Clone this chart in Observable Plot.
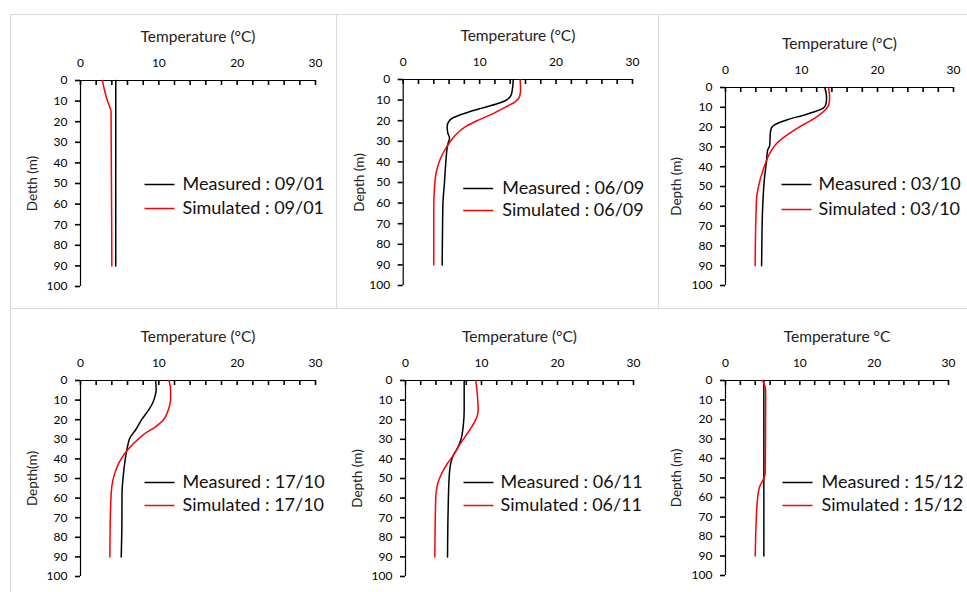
<!DOCTYPE html>
<html><head><meta charset="utf-8">
<script src="https://cdn.jsdelivr.net/npm/d3@7"></script>
<script src="https://cdn.jsdelivr.net/npm/@observablehq/plot@0.6"></script>
<style>
body{margin:0;background:#fff;}
#chart{position:relative;width:967px;height:592px;overflow:hidden;font-family:Lato,sans-serif;}
.panel{position:absolute;}
.panel svg{background:transparent;}
.border{position:absolute;background:#d9d9d9;}
</style></head><body><div id="chart"></div>
<script>
// ---------- data ----------
const dates = ["09/01", "06/09", "03/10", "17/10", "06/11", "15/12"];
const xTitles = ["Temperature (°C)", "Temperature (°C)", "Temperature (°C)", "Temperature (°C)", "Temperature (°C)", "Temperature °C"];
const yTitles = ["Detth (m)", "Depth (m)", "Depth (m)", "Depth(m)", "Depth (m)", "Depth (m)"];
const xTickLabels = [0, 10, 20, 30];
const xTickMarks = [0, 2, 4, 6, 8, 10, 12, 14, 16, 18, 20, 22, 24, 26, 28, 30];
const yTickLabels = [0, 10, 20, 30, 40, 50, 60, 70, 80, 90, 100];

// measured profiles (depth m, temperature °C)
const measDepth1 = [0, 30, 60, 90];
const measTemp1  = [4.5, 4.5, 4.5, 4.5];
const measDepth2 = [0, 6.6, 8.6, 10.2, 11.8, 13.9, 16, 17.6, 18.8, 20.4, 22.8, 26, 28.5, 30.9, 33.3, 39, 50, 60, 71, 90];
const measTemp2  = [14.4, 14.2, 13.95, 13.4, 12.3, 10.3, 8.4, 7.15, 6.4, 5.97, 5.75, 5.84, 6.06, 5.88, 5.75, 5.6, 5.4, 5.2, 5.15, 5.1];
const measDepth3 = [0, 5.2, 8.6, 10.6, 13.6, 16.2, 18.7, 20.4, 22.9, 27, 29.6, 31.5, 37, 47, 62.5, 74, 90];
const measTemp3  = [13.07, 13.3, 13.2, 12.8, 10.6, 8.2, 6.5, 6.05, 5.9, 5.85, 5.8, 5.55, 5.4, 5.1, 4.87, 4.8, 4.75];
const measDepth4 = [0, 4.8, 8.2, 11.6, 15, 20, 25, 29.4, 33.7, 40.5, 49, 57.5, 74.5, 90];
const measTemp4  = [9.6, 9.66, 9.5, 9.2, 8.7, 7.8, 7.06, 6.3, 6.0, 5.7, 5.45, 5.3, 5.28, 5.2];
const measDepth5 = [0, 15, 23.5, 30.3, 34.5, 38.3, 42.2, 49, 66, 90];
const measTemp5  = [7.72, 7.72, 7.59, 7.28, 6.84, 6.27, 5.96, 5.75, 5.61, 5.53];
const measDepth6 = [0, 30, 60, 90];
const measTemp6  = [5.16, 5.16, 5.16, 5.16];

// simulated profiles
const simDepth1 = [0, 4.5, 10, 13.5, 15, 30, 50, 70, 90];
const simTemp1  = [2.8, 3.05, 3.45, 3.8, 3.9, 3.92, 3.95, 3.98, 4.0];
const simDepth2 = [0, 5, 8, 10.7, 13, 16.3, 19.6, 22.8, 26.9, 31, 35.8, 40.6, 45.5, 52, 63, 90];
const simTemp2  = [15.3, 15.35, 15.25, 14.7, 13.6, 11.9, 9.9, 8.2, 6.85, 6.0, 5.2, 4.65, 4.3, 4.1, 4.0, 4.0];
const simDepth3 = [0, 5, 8.6, 11, 15.3, 19.5, 23.7, 28.8, 33.8, 38.9, 44, 49, 55.7, 66, 90];
const simTemp3  = [13.55, 13.7, 13.6, 13.2, 11.8, 9.9, 8.2, 6.6, 5.75, 5.2, 4.75, 4.4, 4.1, 4.0, 3.9];
const simDepth4 = [0, 4.8, 10, 15, 20, 23.5, 27.7, 32, 37, 42, 47, 54, 66, 90];
const simTemp4  = [11.3, 11.5, 11.5, 11.2, 10.6, 9.6, 8.0, 6.8, 5.7, 4.9, 4.4, 4.0, 3.83, 3.75];
const simDepth5 = [0, 8.2, 15, 19.2, 23.5, 28.6, 33.7, 38.3, 42.2, 47.6, 52.4, 59.2, 74.5, 90];
const simTemp5  = [9.25, 9.47, 9.56, 9.34, 8.73, 7.85, 6.97, 6.27, 5.53, 4.74, 4.25, 3.99, 3.9, 3.86];
const simDepth6 = [0, 4.8, 15, 30, 47.5, 49.2, 54.4, 61.2, 74.9, 90];
const simTemp6  = [4.98, 5.4, 5.4, 5.38, 5.35, 5.25, 4.6, 4.3, 4.1, 4.0];

const measDepths = [measDepth1, measDepth2, measDepth3, measDepth4, measDepth5, measDepth6];
const measTemps  = [measTemp1, measTemp2, measTemp3, measTemp4, measTemp5, measTemp6];
const simDepths  = [simDepth1, simDepth2, simDepth3, simDepth4, simDepth5, simDepth6];
const simTemps   = [simTemp1, simTemp2, simTemp3, simTemp4, simTemp5, simTemp6];

// ---------- layout ----------
const layout = [
  {left: 11,  top: 15,  w: 325, h: 293, ml: 69,   mr: 21, mt: 65, mb: 22, ylab: 48, leg: {lx: 79, tx: 102, y1: 104, y2: 128}},
  {left: 337, top: 15,  w: 321, h: 293, ml: 65.7, mr: 26, mt: 64, mb: 23, ylab: 44, leg: {lx: 75, tx: 99, y1: 109, y2: 131}},
  {left: 659, top: 15,  w: 308, h: 293, ml: 66,   mr: 14, mt: 72, mb: 23, ylab: 49, leg: {lx: 71, tx: 93, y1: 97, y2: 122}},
  {left: 11,  top: 309, w: 325, h: 283, ml: 69,   mr: 21, mt: 71, mb: 16, ylab: 48, leg: {lx: 79, tx: 102, y1: 102, y2: 125}},
  {left: 337, top: 309, w: 321, h: 283, ml: 68,   mr: 25, mt: 71, mb: 16, ylab: 48, leg: {lx: 73, tx: 95, y1: 102, y2: 125}},
  {left: 659, top: 309, w: 308, h: 283, ml: 66,   mr: 19, mt: 71, mb: 17, ylab: 49, leg: {lx: 72, tx: 96, y1: 102, y2: 125}}
];
const borders = [
  {x: 10, y: 14, w: 957, h: 1}, {x: 10, y: 308, w: 957, h: 1},
  {x: 10, y: 14, w: 1, h: 578}, {x: 336, y: 14, w: 1, h: 294}, {x: 658, y: 14, w: 1, h: 294}
];

const chart = document.getElementById("chart");
for (const b of borders) {
  const d = document.createElement("div");
  d.className = "border";
  Object.assign(d.style, {left: b.x + "px", top: b.y + "px", width: b.w + "px", height: b.h + "px"});
  chart.appendChild(d);
}

const legendLine = {draw(ctx) { ctx.moveTo(-15, 0); ctx.lineTo(15, 0); }};

layout.forEach((L, i) => {
  const meas = measDepths[i].map((d, j) => ({depth: d, temp: measTemps[i][j]}));
  const sim = simDepths[i].map((d, j) => ({depth: d, temp: simTemps[i][j]}));
  const plot = Plot.plot({
    width: L.w, height: L.h,
    marginLeft: L.ml, marginRight: L.mr, marginTop: L.mt, marginBottom: L.mb,
    style: {fontFamily: "Lato, sans-serif", background: "transparent", color: "#000"},
    x: {domain: [0, 30], axis: null},
    y: {domain: [0, 100], reverse: true, axis: null},
    marks: [
      Plot.axisX(xTickLabels, {anchor: "top", tickSize: 0, tickPadding: 14, fontSize: 12, label: null}),
      Plot.axisX(xTickMarks, {anchor: "bottom", frameAnchor: "top", tickSize: 5, tickFormat: () => "", label: null, stroke: "#000", strokeWidth: 1.6}),
      Plot.axisY(yTickLabels, {anchor: "left", tickSize: 5, tickPadding: 8, fontSize: 12, label: null, stroke: "#000", strokeWidth: 1.6}),
      Plot.ruleY([0], {x1: 0, x2: 30, stroke: "#000", strokeWidth: 1.2}),
      Plot.ruleX([0], {y1: 0, y2: 100, stroke: "#000", strokeWidth: 1.2}),
      Plot.line(meas, {x: "temp", y: "depth", stroke: "#000", strokeWidth: 1.5, curve: "monotone-y"}),
      Plot.line(sim, {x: "temp", y: "depth", stroke: "#ff0000", strokeWidth: 1.5, curve: "monotone-y"}),
      Plot.text([xTitles[i]], {text: d => d, frameAnchor: "top", textAnchor: "middle", lineAnchor: "middle", dy: -43, fontSize: 15.5, fill: "#222"}),
      Plot.text([yTitles[i]], {text: d => d, frameAnchor: "left", textAnchor: "middle", lineAnchor: "middle", dx: -L.ylab, rotate: -90, fontSize: 13.5, fill: "#222"}),
      Plot.dot([0], {frameAnchor: "top-left", dx: L.leg.lx, dy: L.leg.y1, symbol: legendLine, stroke: "#000", strokeWidth: 1.5, fill: "none"}),
      Plot.dot([0], {frameAnchor: "top-left", dx: L.leg.lx, dy: L.leg.y2, symbol: legendLine, stroke: "#ff0000", strokeWidth: 1.5, fill: "none"}),
      Plot.text(["Measured : " + dates[i]], {text: d => d, frameAnchor: "top-left", dx: L.leg.tx, dy: L.leg.y1, textAnchor: "start", lineAnchor: "middle", fontSize: 18, fill: "#111"}),
      Plot.text(["Simulated : " + dates[i]], {text: d => d, frameAnchor: "top-left", dx: L.leg.tx, dy: L.leg.y2, textAnchor: "start", lineAnchor: "middle", fontSize: 18, fill: "#111"})
    ]
  });
  const wrap = document.createElement("div");
  wrap.className = "panel";
  Object.assign(wrap.style, {left: L.left + "px", top: L.top + "px"});
  wrap.appendChild(plot);
  chart.appendChild(wrap);
});
</script></body></html>
